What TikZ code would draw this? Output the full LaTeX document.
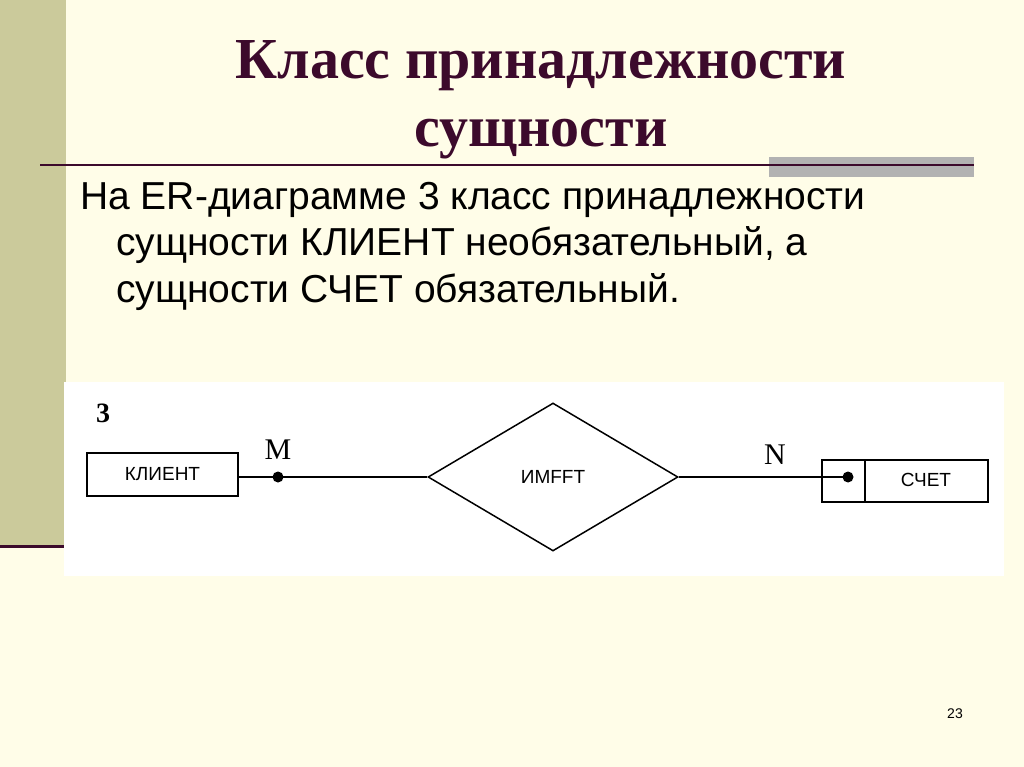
\documentclass[tikz,border=0pt]{standalone}
\usepackage{fontspec}
\setmainfont{Liberation Serif}
\newfontfamily\arialf{Liberation Sans}
\usetikzlibrary{shapes.geometric}
\definecolor{bg}{HTML}{FFFDE8}
\definecolor{bar}{HTML}{CBCA9B}
\definecolor{maroon}{HTML}{3C0A2C}
\begin{document}
\begin{tikzpicture}[x=1pt,y=-1pt,
  lw/.style={line width=1.5pt},
  ent/.style={draw,lw,minimum width=151pt,minimum height=43pt,inner sep=0pt,font=\arialf\fontsize{19}{21}\selectfont},
  dot/.style={circle,fill,inner sep=0pt,minimum size=11pt}]
\fill[bg] (0,0) rectangle (1024,767);
\useasboundingbox (0,0) rectangle (1024,767);
\fill[bar] (0,0) rectangle (66,546);
\draw[maroon,line width=3pt] (0,546) -- (64,546);
\fill[black!30] (769,157) rectangle (974,177);
\draw[maroon,line width=2pt] (40,165) -- (974,165);
\node[maroon,font=\bfseries\fontsize{58}{68}\selectfont,align=center] (title) at (541,100) {Класс принадлежности\\сущности};
\node[font=\arialf\fontsize{39}{46.5}\selectfont,anchor=north west,align=left,inner sep=0pt] (txt) at (80,182)
 {На ER-диаграмме 3 класс принадлежности\\\hspace*{36pt}сущности КЛИЕНТ необязательный, а\\\hspace*{36pt}сущности СЧЕТ обязательный.};
\fill[white] (64,382) rectangle (1004,576);
\node[font=\bfseries\fontsize{28}{30}\selectfont] (n3) at (103,413) {3};
\node[ent] (kl) at (162.5,474.5) {КЛИЕНТ};
\node[draw,lw,diamond,minimum width=250pt,minimum height=148pt,inner sep=0pt,aspect=1.69,font=\arialf\fontsize{19}{21}\selectfont] (im) at (553,477) {ИМFFT};
\node[draw,lw,minimum width=166pt,minimum height=42pt,inner sep=0pt] (sc) at (905,481) {};
\node[font=\arialf\fontsize{19}{21}\selectfont] (sct) at (926,480) {СЧЕТ};
\draw[lw] (865,460) -- (865,502);
\node[dot] (d1) at (278,477) {};
\node[dot] (d2) at (848,477) {};
\draw[lw] (kl.east|-d1) -- (im.west);
\draw[lw] (im.east) -- (d2.center);
\node[font=\fontsize{30}{32}\selectfont] (m) at (278,450) {M};
\node[font=\fontsize{30}{32}\selectfont] (nn) at (775,455) {N};
\node[font=\arialf\fontsize{14}{16}\selectfont] (pg) at (955,714) {23};
\end{tikzpicture}
\end{document}
